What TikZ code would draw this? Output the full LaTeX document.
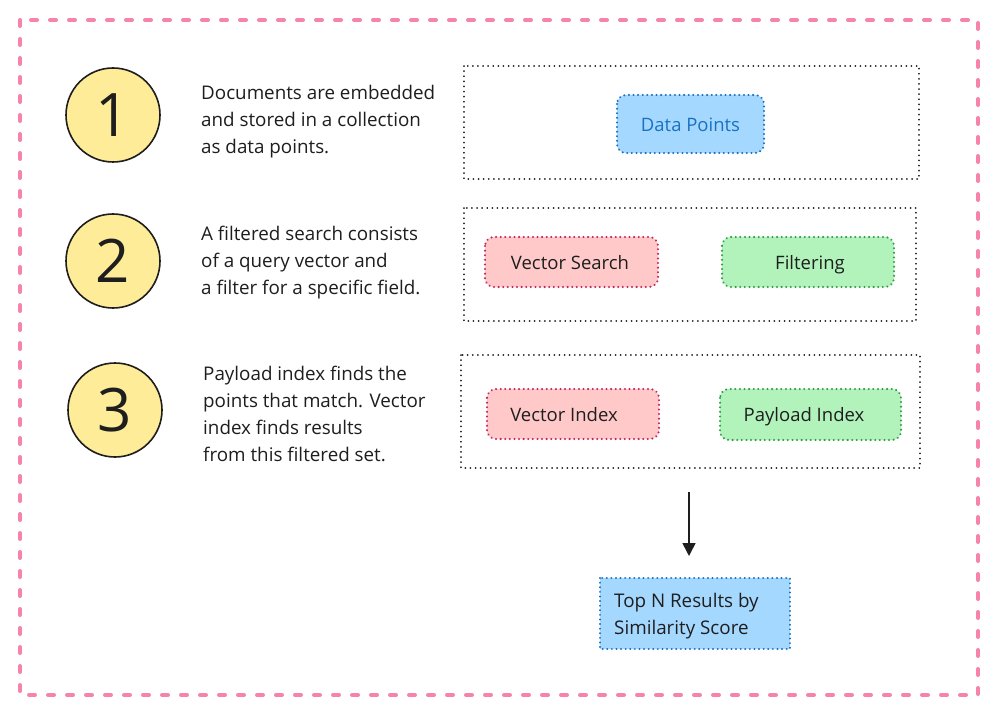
\documentclass[tikz,border=0pt]{standalone}
\usepackage{fontspec}
\setmainfont{Open Sans}
\usetikzlibrary{arrows.meta}
\definecolor{pinkb}{HTML}{F783AC}
\definecolor{circfill}{HTML}{FFEC99}
\definecolor{inkc}{HTML}{1E1E1E}
\definecolor{bluef}{HTML}{A5D8FF}
\definecolor{bluel}{HTML}{1971C2}
\definecolor{redf}{HTML}{FFC9C9}
\definecolor{redl}{HTML}{C2255C}
\definecolor{greenf}{HTML}{B2F2BB}
\definecolor{greenl}{HTML}{2F9E44}
\tikzset{
  x=1pt, y=-1pt,
  numcirc/.style={circle, draw=inkc, line width=1.6pt, fill=circfill, minimum size=94pt, inner sep=0pt, font=\fontsize{60}{60}\selectfont, text=inkc},
  desc/.style={anchor=north west, align=left, inner sep=0pt, font=\fontsize{18.8}{27}\selectfont, text=inkc},
  groupbox/.style={draw=inkc, line width=1.8pt, dash pattern=on 0.1pt off 5pt, line cap=round},
  pill/.style={rounded corners=9pt, line width=2.2pt, dash pattern=on 0.1pt off 4.5pt, line cap=round},
  pilltext/.style={font=\fontsize{18.5}{22}\selectfont, text=inkc, text height=1.45ex, text depth=0.05ex},
  bluepill/.style={pill, fill=bluef, draw=bluel},
  redpill/.style={pill, fill=redf, draw=redl},
  greenpill/.style={pill, fill=greenf, draw=greenl},
}
\begin{document}
\begin{tikzpicture}
\useasboundingbox (0,0) rectangle (999,714);
\fill[white] (0,0) rectangle (999,714);
% outer border
\draw[pinkb, line width=4pt, dash pattern=on 6pt off 13pt, line cap=round] (20,20) rectangle (978,695);

% circles
\node[numcirc] (c1) at (113,115) {1};
\node[numcirc] (c2) at (113,261) {2};
\node[numcirc] (c3) at (115,410) {3};

% descriptions
\node[desc] (t1) at (201,85) {Documents are embedded\\and stored in a collection\\as data points.};
\node[desc] (t2) at (201,226) {A filtered search consists\\of a query vector and\\a filter for a specific field.};
\node[desc] (t3) at (203,366) {Payload index finds the\\points that match. Vector\\index finds results\\from this filtered set.};

% group boxes
\draw[groupbox] (464,66) rectangle (919,179);
\draw[groupbox] (464,208) rectangle (916,321);
\draw[groupbox] (461,355) rectangle (920,468);

% pills
\draw[bluepill] (617,95) rectangle (764,153);
\node[pilltext, text=bluel] (dp) at (690.5,128) {Data Points};

\draw[redpill] (485,237) rectangle (658,287);
\node[pilltext] (vs) at (570,266) {Vector Search};

\draw[greenpill] (722,237) rectangle (894,287);
\node[pilltext] (fi) at (810,266) {Filtering};

\draw[redpill] (487,389) rectangle (659,439);
\node[pilltext] (vi) at (564,418) {Vector Index};

\draw[greenpill] (720,389) rectangle (901,440);
\node[pilltext] (pi) at (804,418) {Payload Index};

% result box
\draw[fill=bluef, draw=bluel, line width=2.2pt, dash pattern=on 0.1pt off 4.5pt, line cap=round] (600,578) rectangle (790,649);
\node[desc] (res) at (614,593) {Top N Results by\\Similarity Score};

% arrow
\coordinate (a0) at (689,492);
\coordinate (a1) at (689,556);
\draw[inkc, line width=1.6pt, -{Triangle[length=13pt,width=13pt]}] (a0) -- (a1);
\end{tikzpicture}
\end{document}
